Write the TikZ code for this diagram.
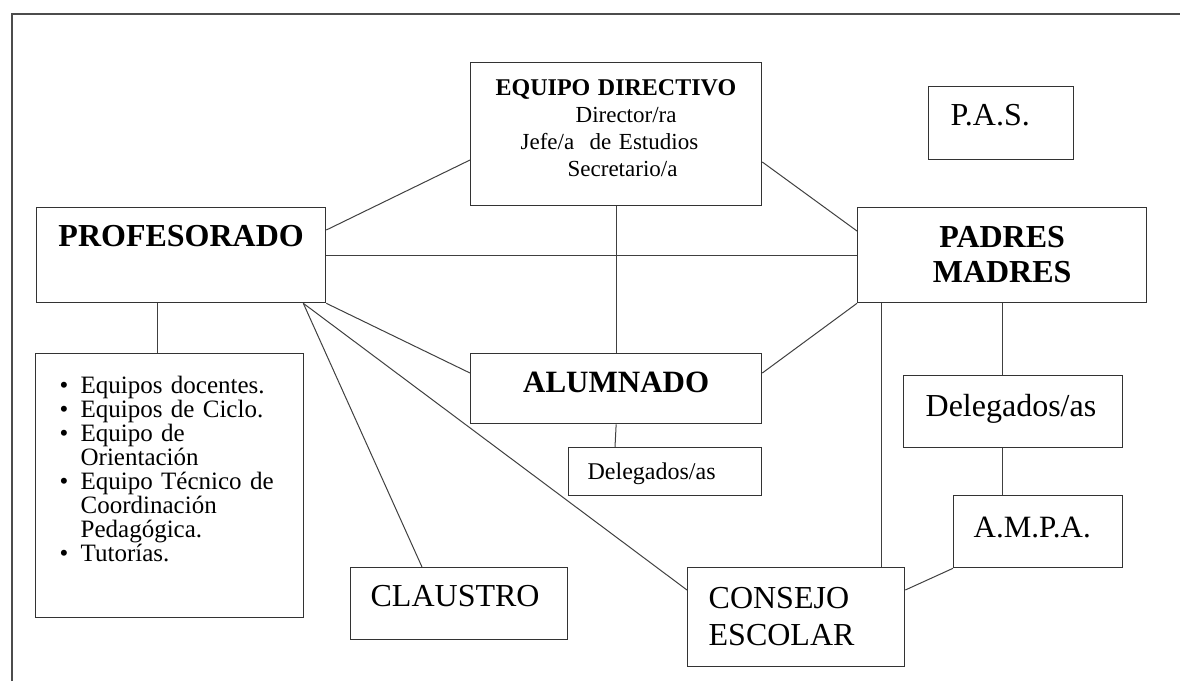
\documentclass[tikz,border=0pt]{standalone}
\usepackage{fontspec}
\setmainfont{Liberation Serif}
\newcommand{\bul}{\makebox[21pt][l]{\textbullet}}

\begin{document}
\begin{tikzpicture}[x=1pt,y=-1pt,
                    box/.style={draw=black!80,line width=1.3pt,inner sep=0pt,
                                anchor=north west,align=center},
                    link/.style={draw=black!75,line width=1pt}]
  \tikzstyle{big}=[font=\fontsize{32}{35}\selectfont]
  \tikzstyle{bigb}=[font=\fontsize{32}{35}\selectfont\bfseries]
  \useasboundingbox (0,0) rectangle (1180,681);
  \draw[line width=1.5pt,black!70] (12,681) -- (12,14) -- (1180,14);

  \node[box,align=left,inner xsep=25pt,text width=241pt,text height=33pt,text depth=110pt,
        font=\fontsize{23}{27}\selectfont] (equipo) at (470,62)
        {{\fontsize{24}{27}\selectfont\bfseries EQUIPO DIRECTIVO}\\
         \hspace*{80pt}Director/ra\\
         \hspace*{25pt}Jefe/a\ \ de Estudios\\
         \hspace*{72pt}Secretario/a};
  \node[box,big,align=left,inner xsep=22pt,text width=101pt,text height=39pt,text depth=34pt]
        (pas) at (928,86) {P.A.S.};
  \node[box,bigb,text width=289pt,text height=39pt,text depth=56pt]
        (prof) at (36,207) {PROFESORADO};
  \node[box,bigb,text width=289pt,text height=40pt,text depth=55pt]
        (padres) at (857,207) {PADRES\\MADRES};
  \node[box,font=\fontsize{31}{35}\selectfont\bfseries,text width=291pt,text height=39pt,text depth=31pt]
        (alum) at (470,353) {ALUMNADO};
  \node[box,align=left,font=\fontsize{24}{27}\selectfont,inner xsep=19pt,text width=155pt,
        text height=32pt,text depth=16pt] (delA) at (568,447) {Delegados/as};
  \node[box,align=left,font=\fontsize{25}{24}\selectfont,inner xsep=24pt,text width=220pt,
        text height=40pt,text depth=224pt] (list) at (35,353)
        {\bul Equipos docentes.\\
         \bul Equipos de Ciclo.\\
         \bul Equipo de\\
         \hspace*{21pt}Orientación\\
         \bul Equipo Técnico de\\
         \hspace*{21pt}Coordinación\\
         \hspace*{21pt}Pedagógica.\\
         \bul Tutorías.};
  \node[box,big,align=left,inner xsep=22pt,text width=175pt,text height=41pt,text depth=31pt]
        (delP) at (903,375) {Delegados/as};
  \node[box,font=\fontsize{31}{35}\selectfont,align=left,inner xsep=20pt,text width=129pt,
        text height=42pt,text depth=30pt] (ampa) at (953,495) {A.M.P.A.};
  \node[box,big,align=left,inner xsep=20pt,text width=177pt,text height=39pt,text depth=33pt]
        (claus) at (350,567) {CLAUSTRO};
  \node[box,font=\fontsize{32}{37}\selectfont,align=left,inner xsep=21pt,text width=175pt,
        text height=41pt,text depth=58pt] (cons) at (687,567) {CONSEJO\\ESCOLAR};

  % lineas entre cajas
  \path[link] ([yshift=-23pt]prof.north east)   edge ([yshift=-98pt]equipo.north west)
              (prof.east)                        edge (padres.west)
              ([yshift=-100pt]equipo.north east) edge ([yshift=-24pt]padres.north west)
              (equipo.south)                     edge (alum.north)
              (padres.south west)                edge ([yshift=-20pt]alum.north east)
              ([xshift=121pt]prof.south west)    edge ([xshift=122pt]list.north west)
              (prof.south east)                  edge ([yshift=-20pt]alum.north west)
              ([xshift=-23pt]prof.south east)    edge ([xshift=72pt]claus.north west)
              ([xshift=-23pt]prof.south east)    edge ([yshift=-23pt]cons.north west)
              ([xshift=24pt]padres.south west)   edge ([xshift=194pt]cons.north west)
              ([xshift=145pt]padres.south west)  edge ([xshift=99pt]delP.north west)
              ([xshift=99pt]delP.south west)     edge ([xshift=49pt]ampa.north west)
              (ampa.south west)                  edge ([yshift=-23pt]cons.north east)
              (alum.south)                       edge ([xshift=47pt]delA.north west);
\end{tikzpicture}
\end{document}
